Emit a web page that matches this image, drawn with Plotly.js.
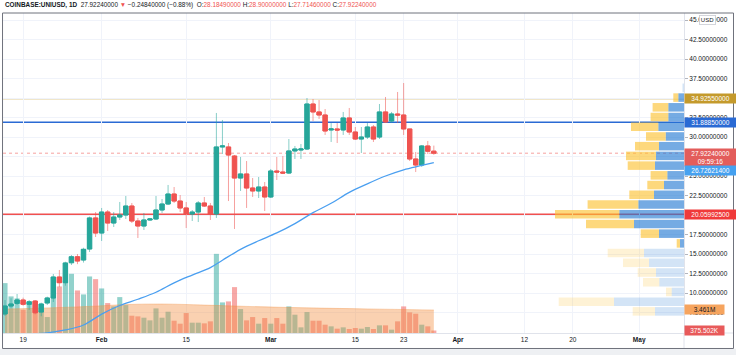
<!DOCTYPE html>
<html><head><meta charset="utf-8">
<script src="https://cdn.plot.ly/plotly-3.0.1.min.js"></script>
<style>html,body{margin:0;padding:0;background:#fff;}#chart{width:736px;height:355px;}</style>
</head><body><div id="chart"></div>
<script>
// ---------- data ----------
const startDate = [2021, 0, 16]; // first visible daily candle: 2021-01-16
const opens  = [7.31,8.33,8.67,9.10,8.55,8.97,7.56,8.72,9.36,12.05,11.32,13.88,14.65,14.23,15.64,19.62,17.69,20.38,18.97,19.74,20.00,21.15,19.23,18.59,19.36,19.49,20.64,21.41,22.69,21.79,20.90,20.13,20.38,21.54,21.15,20.13,28.72,28.72,27.56,24.74,25.26,23.46,23.08,23.59,22.31,25.64,25.51,25.38,28.21,28.33,28.46,34.23,33.21,32.82,30.90,31.03,30.90,32.44,30.64,29.74,30.00,31.28,30.00,33.21,32.05,32.95,32.82,31.03,27.18,26.41,28.85,28.1849];
const highs  = [9.10,9.32,9.87,9.40,9.10,9.10,8.76,9.53,12.44,12.95,14.01,14.87,15.00,15.80,19.80,20.38,20.90,20.64,20.38,21.67,22.44,21.54,19.62,20.26,19.62,22.44,22.05,23.85,23.59,22.56,21.67,20.64,21.79,22.31,21.54,33.08,32.18,29.23,27.69,27.44,26.92,24.74,24.87,24.23,25.90,27.44,27.56,29.74,28.85,29.10,35.00,34.87,34.74,33.59,31.79,31.79,33.21,33.72,31.28,31.28,31.79,31.54,34.23,35.13,33.21,35.77,36.92,31.03,28.08,28.97,29.49,28.90];
const lows   = [7.05,8.04,8.46,8.37,7.82,7.27,7.02,8.46,8.85,10.77,10.94,13.59,13.70,13.90,15.26,17.18,16.67,17.95,18.46,19.36,19.49,18.97,17.05,18.08,19.23,19.36,20.26,21.28,21.54,20.38,18.33,19.23,19.10,21.03,19.36,19.62,27.82,21.79,18.21,23.08,20.90,22.31,22.18,20.51,22.18,24.49,25.26,25.26,27.18,27.18,28.33,32.05,32.31,30.26,29.36,29.23,30.26,30.26,29.62,27.95,29.74,29.36,29.74,31.79,31.79,31.79,30.26,26.92,25.51,26.15,27.82,27.7146];
const closes = [8.33,8.59,9.10,8.55,8.88,7.47,8.59,9.36,12.05,11.32,13.85,14.65,14.10,15.60,19.62,17.69,20.38,18.97,19.74,20.00,21.15,19.23,18.59,19.36,19.49,20.64,21.41,22.69,21.79,20.90,20.13,20.38,21.54,21.15,20.13,28.72,28.85,27.69,24.74,25.26,23.46,23.08,23.59,22.31,25.64,25.51,25.38,28.21,28.46,28.46,34.23,33.21,32.82,30.77,31.03,30.90,32.44,30.64,29.74,30.00,31.28,29.74,33.21,31.92,32.95,32.82,31.03,27.18,26.41,28.85,28.1708,27.9224];
// daily volume, millions
const volumes = [7.5,5.5,5.2,3.5,4.5,4.75,3.3,2.4,5.5,7.0,7.8,8.9,6.4,5.8,8.5,8.1,6.7,4.5,4.0,5.4,4.2,2.6,2.5,2.3,1.9,3.7,2.3,3.2,1.85,1.4,3.0,1.55,1.55,1.45,1.75,11.9,4.6,4.75,6.9,3.6,1.9,2.4,1.4,2.25,1.4,2.25,1.4,4.0,2.75,0.85,3.15,1.85,1.85,1.25,1.0,0.65,0.85,0.6,0.75,0.65,0.9,0.6,1.15,1.15,0.5,1.75,4.0,3.1,2.9,1.25,1.0,0.375502];
// moving average of price (read at sampled candles)
const maIdx  = [4,7,10,13,16,19,22,25,28,31,34,36,39,42,45,48,51,54,57,60,63,66,69,71];
const maVals = [4.74,4.9,5.26,5.9,7.3,8.4,9.2,10.1,11.3,12.3,13.25,14.2,15.6,16.7,17.7,18.9,20.3,21.5,22.9,24.0,25.0,25.8,26.35,26.726214];
// volume moving average (millions)
const vmaIdx  = [0,8,14,20,26,33,40,50,60,71];
const vmaVals = [3.6,3.8,4.0,4.28,4.36,4.2,4.0,3.78,3.62,3.461];
// horizontal levels
const levels = [34.9255, 31.8885, 20.059925];
// visible-range volume profile, top row to bottom row (ten-thousands)
const profUp   = [1.5,5.7,15.7,15.7,25.7,18.3,25,28,29,16.7,20,30,45.7,64.7,50,25,4,40,35,28,24.7,12.3,70,29];
const profDown = [0,5.0,15.7,17.7,27.3,19.7,24,30,27.3,16.7,16.7,24.7,50.7,64.3,48,18.3,3.3,36.3,26,18.3,16.3,5.7,55.3,22.3];
const valueAreaRows = [1, 16]; // first/last row inside value area
// axis labels
const xTickDates = ['2021-01-19','2021-02-01','2021-02-15','2021-03-01','2021-03-15','2021-03-23','2021-04-01','2021-04-12','2021-04-20','2021-05-01'];
const xTickText  = ['19','<b>Feb</b>','15','<b>Mar</b>','15','23','<b>Apr</b>','12','20','<b>May</b>'];
const priceTicks = [5,7.5,10,12.5,15,17.5,20,22.5,25,27.5,30,32.5,35,37.5,40,42.5,45];
const hiddenPriceTicks = [35, 27.5, 20]; // fully covered by the value labels
const countdown = '09:59:16';

// ---------- derived ----------
function dayStr(i){ const d = new Date(Date.UTC(startDate[0], startDate[1], startDate[2] + i)); return d.toISOString().slice(0,10); }
const dates = opens.map((_, i) => dayStr(i));
const n = opens.length;
const bodyHi = opens.map((o, i) => Math.max(o, closes[i]));
const bodyLo = opens.map((o, i) => Math.min(o, closes[i]));
const UP = '#26a69a', DN = '#ef5350';
const volColors = opens.map((o, i) => closes[i] >= o ? 'rgba(38,166,154,0.5)' : 'rgba(239,83,80,0.5)');
const lo = Math.min(...lows), hi = Math.max(...highs);
const step = (hi - lo) / profUp.length;
const rowPrice = profUp.map((_, k) => hi - step * (k + 0.5));
const inVA = k => k >= valueAreaRows[0] && k <= valueAreaRows[1];
const upCol = profUp.map((_, k) => inVA(k) ? 'rgba(33,120,210,0.62)' : 'rgba(33,120,210,0.2)');
const dnCol = profDown.map((_, k) => inVA(k) ? 'rgba(251,192,45,0.62)' : 'rgba(251,192,45,0.2)');
const priceTickText = priceTicks.map(v => hiddenPriceTicks.includes(v) ? '' : v.toFixed(8));

const last = n - 1;
const chg = closes[last] - closes[last - 1];
const pct = chg / closes[last - 1] * 100;
const f8 = v => v.toFixed(8);
const neg = v => (v < 0 ? '\u2212' : '+') + Math.abs(v).toFixed(8);
const red = s => '<span style="color:#ef5350">' + s + '</span>';
const header = '<b>COINBASE:UNIUSD, 1D</b>  ' + f8(closes[last]) + ' ' + red('\u25BC') + ' ' + neg(chg) +
  ' (' + (pct < 0 ? '\u2212' : '+') + Math.abs(pct).toFixed(2) + '%)  O:' + red(f8(opens[last])) +
  ' H:' + red(f8(highs[last])) + ' L:' + red(f8(lows[last])) + ' C:' + red(f8(closes[last]));

const DAY = 86400000;
const FONT = 'Liberation Sans, Arial, sans-serif';

const traces = [
  { type: 'bar', x: dates, y: volumes, xaxis: 'x', yaxis: 'y', width: 0.84 * DAY,
    marker: { color: volColors, line: { width: 0 } }, hoverinfo: 'skip' },
  { type: 'scatter', mode: 'lines', x: vmaIdx.map(i => dates[i]), y: vmaVals, xaxis: 'x', yaxis: 'y',
    fill: 'tozeroy', fillcolor: 'rgba(242,140,60,0.4)', line: { color: 'rgba(242,140,60,0.35)', width: 1, shape: 'spline' }, hoverinfo: 'skip' },
  { type: 'candlestick', x: dates, open: opens, high: highs, low: lows, close: closes, xaxis: 'x', yaxis: 'y2',
    increasing: { line: { color: 'rgba(38,166,154,0.55)', width: 1 }, fillcolor: 'rgba(0,0,0,0)' },
    decreasing: { line: { color: 'rgba(239,83,80,0.55)', width: 1 }, fillcolor: 'rgba(0,0,0,0)' },
    whiskerwidth: 0, hoverinfo: 'skip' },
  { type: 'candlestick', x: dates, open: opens, high: bodyHi, low: bodyLo, close: closes, xaxis: 'x', yaxis: 'y2',
    increasing: { line: { color: UP, width: 1 }, fillcolor: UP },
    decreasing: { line: { color: DN, width: 1 }, fillcolor: DN },
    whiskerwidth: 0, hoverinfo: 'skip' },
  { type: 'scatter', mode: 'lines', x: maIdx.map(i => dates[i]), y: maVals, xaxis: 'x', yaxis: 'y2',
    line: { color: '#4a9ff0', width: 1.3, shape: 'spline' }, hoverinfo: 'skip' },
  { type: 'bar', orientation: 'h', y: rowPrice, x: profUp, xaxis: 'x2', yaxis: 'y2', width: step * 0.88,
    marker: { color: upCol, line: { width: 0 } }, hoverinfo: 'skip' },
  { type: 'bar', orientation: 'h', y: rowPrice, x: profDown, base: profUp, xaxis: 'x2', yaxis: 'y2', width: step * 0.88,
    marker: { color: dnCol, line: { width: 0 } }, hoverinfo: 'skip' }
];

const lvlCol = ['#c49a2c', '#2a6ad4', '#f05050'];
const lvlW = [1.4, 1.4, 2];
const shapes = levels.map((v, k) => ({ type: 'line', xref: 'paper', x0: 0, x1: 1, yref: 'y2', y0: v, y1: v,
  line: { color: lvlCol[k], width: lvlW[k] }, layer: 'below' }));
shapes.push({ type: 'line', xref: 'paper', x0: 0, x1: 1, yref: 'y2', y0: closes[last], y1: closes[last],
  line: { color: 'rgba(239,83,80,0.55)', width: 1, dash: 'dot' }, layer: 'below' });
// frame and separators
shapes.push({ type: 'rect', xref: 'paper', yref: 'paper', x0: -0.01, x1: 1.09, y0: -0.049, y1: -0.08,
  fillcolor: '#eef0f3', line: { width: 0 }, layer: 'below' });
shapes.push({ type: 'line', xref: 'paper', yref: 'paper', x0: 1, x1: 1.0727, y0: 0, y1: 0, line: { color: '#e0e3eb', width: 1 } });
shapes.push({ type: 'line', xref: 'paper', yref: 'paper', x0: 1, x1: 1, y0: 0, y1: -0.0484, line: { color: '#e0e3eb', width: 1 } });
shapes.push({ type: 'rect', xref: 'paper', yref: 'paper', x0: -0.0007, x1: 1.0727, y0: -0.0484, y1: 1.0,
  line: { color: '#6f727c', width: 1 }, fillcolor: 'rgba(0,0,0,0)' });

const lab = (txt, yv, bg, yref, w, opts) => Object.assign({ xref: 'paper', x: 1, xanchor: 'left', yref: yref || 'y2', y: yv,
  yanchor: 'middle', text: txt, showarrow: false, bgcolor: bg, borderpad: 1, width: w || 49, align: 'center',
  font: { family: FONT, size: 6.5, color: '#ffffff' } }, opts || {});

const annotations = [
  { xref: 'paper', yref: 'paper', x: 0, y: 1.026, xanchor: 'left', yanchor: 'middle', text: header, showarrow: false,
    font: { family: FONT, size: 6.4, color: '#131722' } },
  { xref: 'paper', yref: 'paper', x: 1.035, y: 0.978, xanchor: 'center', yanchor: 'middle', text: 'USD', showarrow: false,
    bgcolor: '#ffffff', bordercolor: '#c8cbd3', borderwidth: 0.8, borderpad: 1, font: { family: FONT, size: 6, color: '#131722' } },
  lab(f8(levels[0]), levels[0], lvlCol[0]),
  lab(f8(levels[1]), levels[1], lvlCol[1]),
  lab(f8(closes[last]) + '<br>' + countdown, closes[last], '#e35d5b', 'y2', 49, { yanchor: 'top', yshift: 5 }),
  lab(f8(maVals[maVals.length - 1]), maVals[maVals.length - 1], '#45a1f0', 'y2', 49, { yshift: -7.5 }),
  lab(f8(levels[2]), levels[2], '#f03a3a'),
  lab(vmaVals[vmaVals.length - 1].toFixed(3) + 'M', vmaVals[vmaVals.length - 1], '#f6a45e', 'y', 37, { font: { family: FONT, size: 6.5, color: '#131722' } }),
  lab((volumes[last] * 1000).toFixed(3) + 'K', volumes[last], '#e85a5a', 'y', 37)
];

const layout = {
  width: 736, height: 355, margin: { l: 3, r: 52, t: 13, b: 22 },
  paper_bgcolor: '#ffffff', plot_bgcolor: '#ffffff', showlegend: false, barmode: 'overlay',
  boxgap: 0.28, boxgroupgap: 0,
  font: { family: FONT, size: 6.5, color: '#131722' },
  xaxis: { type: 'date', range: ['2021-01-15 16:03', '2021-05-08 10:05'], tickvals: xTickDates, ticktext: xTickText,
    showgrid: true, gridcolor: '#f0f3fa', gridwidth: 1, ticks: '', showline: true, linecolor: '#e0e3eb',
    zeroline: false, rangeslider: { visible: false }, fixedrange: true, tickfont: { size: 6.5, color: '#131722' } },
  xaxis2: { overlaying: 'x', range: [681, 0], visible: false, fixedrange: true },
  yaxis: { range: [0, 48.12], visible: false, fixedrange: true },
  yaxis2: { overlaying: 'y', side: 'right', range: [4.872, 45.897], tickmode: 'array', tickvals: priceTicks, ticktext: priceTickText,
    showgrid: true, gridcolor: '#f0f3fa', zeroline: false, ticks: 'outside', ticklen: 3, tickcolor: '#b2b5be',
    showline: true, linecolor: '#e0e3eb', fixedrange: true, tickfont: { size: 6.5, color: '#131722' } },
  shapes: shapes, annotations: annotations
};

Plotly.newPlot('chart', traces, layout, { displayModeBar: false, staticPlot: true });
</script>
</body></html>
